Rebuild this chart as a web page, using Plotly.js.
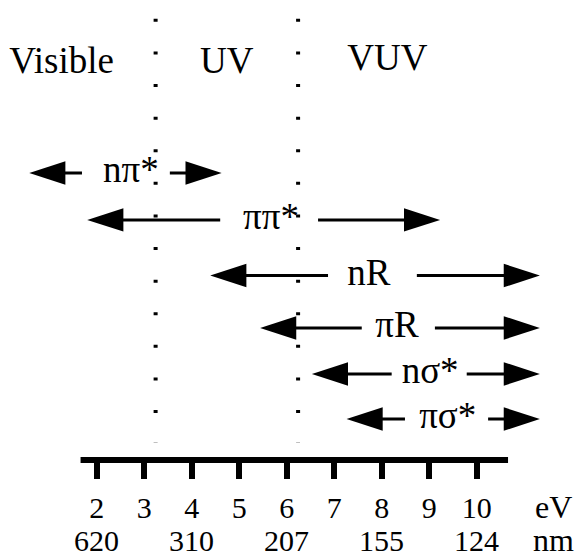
<!DOCTYPE html>
<html>
<head>
<meta charset="utf-8">
<script src="https://cdn.plot.ly/plotly-3.0.1.min.js"></script>
<style>html,body{margin:0;padding:0;background:#fff;}#chart{width:582px;height:558px;}</style>
</head>
<body>
<div id="chart"></div>
<script>
// ---- data ----
const transitions = ['nπ*', 'ππ*', 'nR', 'πR', 'nσ*', 'πσ*'];
const rowLevel    = [6.24, 5.22, 4.01, 2.87, 1.87, 0.89];
const leftTipEV   = [0.58, 1.80, 4.39, 5.44, 6.53, 7.26];
const leftEndEV   = [1.69, 4.60, 6.87, 7.58, 8.21, 8.49];
const rightStartEV= [3.54, 6.66, 8.74, 9.12, 9.79, 10.24];
const rightTipEV  = [4.63, 9.23, 11.33, 11.33, 11.33, 11.33];
const labelEV     = [2.72, 5.67, 7.73, 8.32, 9.02, 9.39];

const regions     = ['Visible', 'UV', 'VUV'];
const regionEV    = [1.26, 4.74, 8.12];
const regionLevel = [8.62, 8.62, 8.67];

const boundaryEV  = [3.24, 6.24];
const boundaryTop = 9.59;
const boundaryBottom = 0.37;

const scaleBarEV  = [1.66, 10.66];
const evTicks     = [2, 3, 4, 5, 6, 7, 8, 9, 10];
const nmTicks     = [2, 4, 6, 8, 10];
const nmLabels    = ['620', '310', '207', '155', '124'];
const unitLabels  = ['eV', 'nm'];
const unitEV      = 11.61;

// ---- styles ----
const FONT = 'Liberation Serif, Times New Roman, serif';
const xRange = [-0.036, 12.217];
const shaftInset = 0.2;

const traces = [];

// region boundaries (dotted)
boundaryEV.forEach(function (b) {
  traces.push({
    x: [b, b], y: [boundaryTop, boundaryBottom],
    mode: 'lines', hoverinfo: 'skip', showlegend: false,
    line: {color: '#000', width: 4, dash: '3px,29.6px'}
  });
});

// arrow shafts
transitions.forEach(function (t, i) {
  traces.push({
    x: [leftTipEV[i] + shaftInset, leftEndEV[i], null, rightStartEV[i], rightTipEV[i] - shaftInset],
    y: [rowLevel[i], rowLevel[i], null, rowLevel[i], rowLevel[i]],
    mode: 'lines', hoverinfo: 'skip', showlegend: false, connectgaps: false,
    line: {color: '#000', width: 3}
  });
});

// arrow heads
const headX = [], headY = [], headAngle = [];
transitions.forEach(function (t, i) {
  headX.push(leftTipEV[i]); headY.push(rowLevel[i]); headAngle.push(-90);
  headX.push(rightTipEV[i]); headY.push(rowLevel[i]); headAngle.push(90);
});
traces.push({
  x: headX, y: headY, mode: 'markers', hoverinfo: 'skip', showlegend: false,
  cliponaxis: false,
  marker: {symbol: 'arrow', size: 38, angle: headAngle, color: '#000', line: {width: 0}}
});

// transition labels
traces.push({
  x: labelEV, y: rowLevel, text: transitions, mode: 'text',
  textposition: 'middle center', hoverinfo: 'skip', showlegend: false,
  textfont: {family: FONT, size: 37, color: '#000'}
});

// region labels
traces.push({
  x: regionEV, y: regionLevel, text: regions, mode: 'text',
  textposition: 'middle center', hoverinfo: 'skip', showlegend: false,
  textfont: {family: FONT, size: 37, color: '#000'}
});

const annotations = [];
nmTicks.forEach(function (v, i) {
  annotations.push({
    text: nmLabels[i], xref: 'x', yref: 'paper', x: v, y: 0,
    yanchor: 'middle', xanchor: 'center', showarrow: false, yshift: -80,
    font: {family: FONT, size: 30, color: '#000'}
  });
});
unitLabels.forEach(function (u, i) {
  annotations.push({
    text: u, xref: 'x', yref: 'paper', x: unitEV, y: 0,
    yanchor: 'middle', xanchor: 'center', showarrow: false,
    yshift: i === 0 ? -47 : -80,
    font: {family: FONT, size: 32, color: '#000'}
  });
});

const layout = {
  width: 582, height: 558,
  margin: {l: 0, r: 0, t: 0, b: 98, pad: 0},
  paper_bgcolor: '#fff', plot_bgcolor: '#fff',
  showlegend: false,
  xaxis: {
    range: xRange, showgrid: false, zeroline: false, showline: false,
    tickmode: 'array', tickvals: evTicks, ticktext: evTicks.map(String),
    ticks: 'outside', ticklen: 18, tickwidth: 6, tickcolor: '#000',
    ticklabelstandoff: 3,
    tickfont: {family: FONT, size: 30, color: '#000'}
  },
  yaxis: {range: [0, 10], visible: false, showgrid: false, zeroline: false},
  shapes: [{
    type: 'line', xref: 'x', yref: 'paper',
    x0: scaleBarEV[0], x1: scaleBarEV[1], y0: 0, y1: 0,
    line: {color: '#000', width: 6}, layer: 'above'
  }],
  annotations: annotations
};

Plotly.newPlot('chart', traces, layout, {staticPlot: true, displayModeBar: false});
</script>
</body>
</html>
